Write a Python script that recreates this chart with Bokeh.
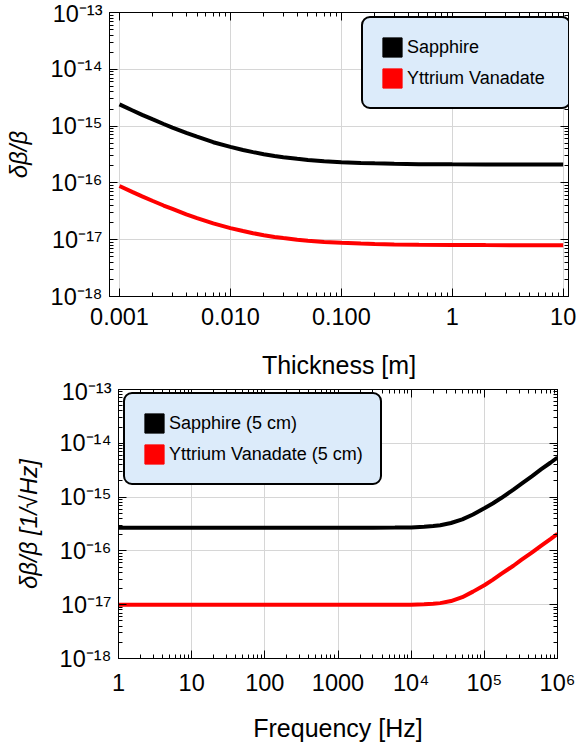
from bokeh.plotting import figure
from bokeh.models import (Range1d, FixedTicker, LogAxis, CustomJSTickFormatter,
                          Legend, LegendItem, ColumnDataSource)
from bokeh.embed import file_html
from bokeh.resources import INLINE

# ---------------- data ----------------
thickness_m = [0.001, 0.0013, 0.0016, 0.002, 0.0025, 0.003, 0.004, 0.005, 0.007, 0.01,
               0.013, 0.016, 0.02, 0.025, 0.03, 0.04, 0.05, 0.07, 0.1, 0.15, 0.2,
               0.3, 0.5, 1, 2, 5, 10]
sapphire_thick = [2.41e-15, 1.90e-15, 1.58e-15, 1.31e-15, 1.09e-15, 9.4e-16, 7.6e-16,
                  6.5e-16, 5.2e-16, 4.3e-16, 3.8e-16, 3.48e-16, 3.2e-16, 2.98e-16,
                  2.83e-16, 2.65e-16, 2.54e-16, 2.41e-16, 2.32e-16, 2.25e-16, 2.21e-16,
                  2.17e-16, 2.14e-16, 2.12e-16, 2.11e-16, 2.10e-16, 2.10e-16]
yvo4_thick = [8.8e-17, 6.95e-17, 5.8e-17, 4.8e-17, 4.0e-17, 3.5e-17, 2.8e-17, 2.4e-17,
              1.94e-17, 1.6e-17, 1.42e-17, 1.3e-17, 1.2e-17, 1.12e-17, 1.07e-17,
              1.0e-17, 9.6e-18, 9.1e-18, 8.8e-18, 8.55e-18, 8.4e-18, 8.27e-18, 8.15e-18,
              8.1e-18, 8.05e-18, 8.0e-18, 8.0e-18]

freq_hz = [1, 10, 100, 1000, 3000, 6000, 1e4, 1.5e4, 2e4, 2.5e4, 3.5e4, 5e4, 7e4, 1e5,
           1.3e5, 1.7e5, 2.5e5, 3.2e5, 4.5e5, 6e5, 8e5, 1e6]
sapphire_freq = [2.7e-16, 2.7e-16, 2.7e-16, 2.7e-16, 2.7e-16, 2.71e-16, 2.73e-16,
                 2.8e-16, 2.9e-16, 3.0e-16, 3.3e-16, 3.85e-16, 4.75e-16, 6.2e-16,
                 7.6e-16, 9.6e-16, 1.38e-15, 1.76e-15, 2.46e-15, 3.3e-15, 4.35e-15,
                 5.45e-15]
yvo4_freq = [1.0e-17, 1.0e-17, 1.0e-17, 1.0e-17, 1.0e-17, 1.0e-17, 1.0e-17, 1.02e-17,
             1.04e-17, 1.07e-17, 1.17e-17, 1.38e-17, 1.75e-17, 2.3e-17, 2.9e-17,
             3.75e-17, 5.3e-17, 6.8e-17, 9.4e-17, 1.25e-16, 1.66e-16, 2.07e-16]

thick_ticks = [0.001, 0.01, 0.1, 1, 10]
thick_tick_labels = ["0.001", "0.010", "0.100", "1", "10"]
freq_ticks = [1, 10, 100, 1000, 1e4, 1e5, 1e6]
freq_tick_labels = ["1", "10", "100", "1000", "10\u2074", "10\u2075", "10\u2076"]
y_ticks = [1e-18, 1e-17, 1e-16, 1e-15, 1e-14, 1e-13]
y_tick_labels = ["10\u207b\u00b9\u2078", "10\u207b\u00b9\u2077", "10\u207b\u00b9\u2076",
                 "10\u207b\u00b9\u2075", "10\u207b\u00b9\u2074", "10\u207b\u00b9\u00b3"]

legend_top = ["Sapphire", "Yttrium Vanadate"]
legend_bottom = ["Sapphire (5 cm)", "Yttrium Vanadate (5 cm)"]
colors = ["#000000", "#ff0000"]

FONT = "Liberation Sans"
GRID = "#d6d6d6"
NAN = float("nan")


def minor_list(lo_exp, hi_exp):
    out = []
    for e in range(lo_exp, hi_exp + 1):
        for m in range(2, 10):
            out.append(m * 10.0 ** e)
    return out


def label_formatter(tvals, tlabels):
    return CustomJSTickFormatter(args=dict(tv=tvals, tl=tlabels), code="""
        let best = 0, bd = 1e9;
        for (let i = 0; i < tv.length; i++) {
            const d = Math.abs(Math.log10(tick) - Math.log10(tv[i]));
            if (d < bd) { bd = d; best = i; }
        }
        return tl[best];
    """)


def style_axis(ax, show_labels):
    ax.axis_line_color = "black"
    ax.axis_line_width = 1
    ax.major_tick_line_color = "black"
    ax.minor_tick_line_color = "black"
    ax.major_tick_in = 8
    ax.major_tick_out = 0
    ax.minor_tick_in = 4
    ax.minor_tick_out = 0
    ax.major_label_text_font = FONT
    ax.major_label_text_color = "black"
    ax.axis_label_text_font = FONT
    ax.axis_label_text_color = "black"
    if show_labels:
        ax.major_label_text_font_size = "23.5px"
    else:
        ax.major_label_text_font_size = "1px"
        ax.major_label_text_color = None
        ax.major_label_standoff = 0


def make_fig(xr, xticks, xlabels, xminor, xlabel, xlab_standoff, ylabel, ylab_standoff,
             borders, frame, x, s1, s2, leg_labels, leg_loc, leg_label_w):
    left, right, top, bottom = borders
    fw, fh = frame
    p = figure(width=left + fw + right, height=top + fh + bottom,
               frame_width=fw, frame_height=fh,
               x_axis_type="log", y_axis_type="log",
               x_range=xr, y_range=Range1d(1e-18, 1e-13),
               output_backend="svg", toolbar_location=None,
               min_border_left=left, min_border_right=right,
               min_border_top=top, min_border_bottom=bottom)
    p.outline_line_color = "black"
    p.outline_line_width = 1
    p.background_fill_color = "white"
    p.border_fill_color = "white"

    xt = FixedTicker(ticks=xticks, minor_ticks=xminor)
    yt = FixedTicker(ticks=y_ticks, minor_ticks=minor_list(-18, -14))

    p.xaxis.ticker = xt
    p.yaxis.ticker = yt
    p.xaxis.formatter = label_formatter(xticks, xlabels)
    p.yaxis.formatter = label_formatter(y_ticks, y_tick_labels)
    for ax in p.xaxis + p.yaxis:
        style_axis(ax, True)
    p.xaxis.axis_label = xlabel
    p.xaxis.axis_label_text_font_size = "25px"
    p.xaxis.axis_label_text_font_style = "normal"
    p.xaxis.major_label_standoff = 11
    p.xaxis.axis_label_standoff = xlab_standoff
    p.yaxis.axis_label = ylabel
    p.yaxis.axis_label_text_font_size = "24px"
    p.yaxis.axis_label_text_font_style = "italic"
    p.yaxis.major_label_standoff = 7
    p.yaxis.axis_label_standoff = ylab_standoff

    ax_r = LogAxis(ticker=FixedTicker(ticks=y_ticks, minor_ticks=minor_list(-18, -14)),
                   formatter=label_formatter(y_ticks, y_tick_labels))
    style_axis(ax_r, False)
    p.add_layout(ax_r, "right")
    ax_t = LogAxis(ticker=FixedTicker(ticks=xticks, minor_ticks=xminor),
                   formatter=label_formatter(xticks, xlabels))
    style_axis(ax_t, False)
    p.add_layout(ax_t, "above")

    p.xgrid.ticker = xt
    p.ygrid.ticker = yt
    for g in (p.xgrid, p.ygrid):
        g.grid_line_color = GRID
        g.grid_line_width = 1
    p.xgrid.minor_grid_line_color = None
    p.ygrid.minor_grid_line_color = None

    p.line(x, s1, line_color=colors[0], line_width=4)
    p.line(x, s2, line_color=colors[1], line_width=4)

    # legend swatches (quads with NaN coordinates: shown only in the legend)
    sw = []
    for c in colors:
        src = ColumnDataSource(dict(l=[NAN], r=[NAN], t=[NAN], b=[NAN]))
        sw.append(p.quad(left="l", right="r", top="t", bottom="b", source=src,
                         fill_color=c, line_color=c))
    items = [LegendItem(label=leg_labels[i], renderers=[sw[i]]) for i in range(2)]
    leg = Legend(items=items, location=leg_loc, margin=0, padding=17, spacing=7,
                 glyph_width=24, glyph_height=24, label_standoff=3,
                 label_text_font=FONT, label_text_font_size="18px",
                 label_text_color="black", label_height=24, label_width=leg_label_w,
                 background_fill_color="#dcebfa", background_fill_alpha=1.0,
                 border_line_color="black", border_line_width=2,
                 border_line_alpha=1.0)
    try:
        leg.border_radius = 9
    except Exception:
        pass
    p.add_layout(leg, "center")
    return p


p1 = make_fig(Range1d(10 ** -3.09, 10 ** 1.048), thick_ticks, thick_tick_labels,
              minor_list(-3, 1), "Thickness [m]", 23, "\u03b4\u03b2/\u03b2", 15,
              (109, 9, 12, 83), (459, 284), thickness_m, sapphire_thick, yvo4_thick,
              legend_top, (252, 187), 145)

p2 = make_fig(Range1d(1, 1e6), freq_ticks, freq_tick_labels,
              minor_list(0, 5), "Frequency [Hz]", 15, "\u03b4\u03b2/\u03b2 [1/\u221aHz]", 14,
              (118, 20, 11, 83), (439, 269), freq_hz, sapphire_freq, yvo4_freq,
              legend_bottom, (5, 173), 192)
# let the lower chart's transparent top border overlap the upper chart's label area
p2.border_fill_alpha = 0
p2.margin = (-3, 0, 0, 0)

open("out.html", "w").write(file_html([p1, p2], INLINE))
